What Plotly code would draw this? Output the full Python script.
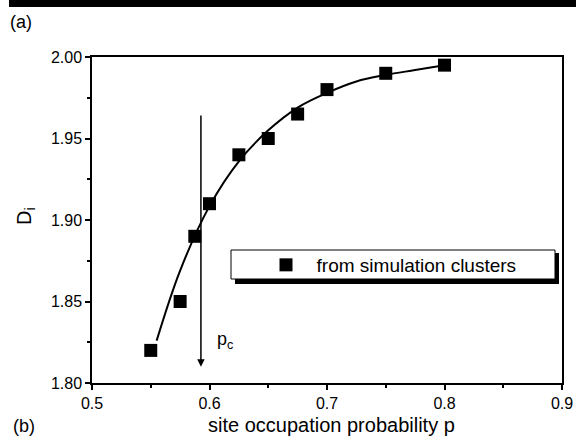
import plotly.graph_objects as go

# ---- data ----
p_sim = [0.55, 0.575, 0.5875, 0.60, 0.625, 0.65, 0.675, 0.70, 0.75, 0.80]
D_sim = [1.82, 1.85, 1.89, 1.91, 1.94, 1.95, 1.965, 1.98, 1.99, 1.995]

p_fit = [0.555, 0.575, 0.60, 0.625, 0.65, 0.675, 0.70, 0.725, 0.75, 0.775, 0.80]
D_fit = [1.826, 1.869, 1.9085, 1.936, 1.955, 1.969, 1.978, 1.985, 1.989, 1.992, 1.995]

p_c = 0.5927
arrow_top = 1.965
arrow_tip = 1.81

x_ticks = [0.5, 0.6, 0.7, 0.8, 0.9]
y_ticks = [1.80, 1.85, 1.90, 1.95, 2.00]

legend_name = "from simulation clusters"
x_title = "site occupation probability p"
y_title = "D<sub>i</sub>"

# ---- layout geometry (pixels) ----
W, H = 576, 437
L, R, T, B = 92, 562, 57, 383


def px(x):
    return (x - L) / (R - L)


def py(y):
    return (B - y) / (B - T)


FONT = "Liberation Sans, Arial, sans-serif"

fig = go.Figure()

fig.add_trace(go.Scatter(
    x=p_fit, y=D_fit, mode="lines", line=dict(color="black", width=2, shape="spline"),
    showlegend=False, hoverinfo="skip"))

fig.add_trace(go.Scatter(
    x=p_sim, y=D_sim, mode="markers", name="\u00a0\u00a0" + legend_name,
    marker=dict(symbol="square", size=13, color="black")))

axis_common = dict(
    showline=True, linecolor="black", linewidth=1.5, mirror=True,
    ticks="outside", ticklen=5, tickwidth=1.5, tickcolor="black",
    showgrid=False, zeroline=False,
    tickfont=dict(family=FONT, size=16, color="black"),
)

fig.update_xaxes(range=[0.5, 0.9], tickvals=x_ticks, tickformat=".1f",
                 minor=dict(dtick=0.05, ticks="outside", ticklen=3, tickwidth=1.5,
                            tickcolor="black", showgrid=False),
                 **axis_common)
fig.update_yaxes(range=[1.80, 2.00], tickvals=y_ticks, tickformat=".2f",
                 minor=dict(dtick=0.025, ticks="outside", ticklen=3, tickwidth=1.5,
                            tickcolor="black", showgrid=False),
                 **axis_common)

shapes = [
    # black bar at very top
    dict(type="rect", xref="paper", yref="paper", x0=px(9), x1=px(576), y0=py(7), y1=py(0),
         fillcolor="black", line=dict(width=0)),
    # legend shadow
    dict(type="rect", xref="paper", yref="paper", x0=px(235), x1=px(559), y0=py(284), y1=py(253),
         fillcolor="black", line=dict(width=0), layer="above"),
    # legend box
    dict(type="rect", xref="paper", yref="paper", x0=px(231), x1=px(555), y0=py(279), y1=py(250),
         fillcolor="white", line=dict(color="black", width=1), layer="above"),
]

annotations = [
    dict(x=p_c, y=arrow_tip, ax=p_c, ay=arrow_top, xref="x", yref="y", axref="x", ayref="y",
         text="", showarrow=True, arrowhead=2, arrowsize=1, arrowwidth=1.5, arrowcolor="black"),
    dict(x=0.605, y=1.826, xref="x", yref="y", text="p<sub>c</sub>", showarrow=False,
         xanchor="left", yanchor="middle", font=dict(family=FONT, size=18, color="black")),
    dict(x=px(8), y=py(22), xref="paper", yref="paper", text="(a)", showarrow=False,
         xanchor="left", yanchor="middle", font=dict(family=FONT, size=18, color="black")),
    dict(x=px(11), y=py(426), xref="paper", yref="paper", text="(b)", showarrow=False,
         xanchor="left", yanchor="middle", font=dict(family=FONT, size=18, color="black")),
    dict(x=px(331), y=py(425), xref="paper", yref="paper", text=x_title, showarrow=False,
         xanchor="center", yanchor="middle", font=dict(family=FONT, size=20, color="black")),
    dict(x=px(25), y=py(216), xref="paper", yref="paper", text=y_title, showarrow=False,
         textangle=-90, xanchor="center", yanchor="middle",
         font=dict(family=FONT, size=20, color="black")),
]

fig.update_layout(
    width=W, height=H,
    margin=dict(l=L, r=W - R, t=T, b=H - B, autoexpand=False),
    paper_bgcolor="white", plot_bgcolor="white",
    showlegend=True,
    legend=dict(x=px(266), y=py(265), xanchor="left", yanchor="middle",
                bgcolor="rgba(0,0,0,0)", borderwidth=0,
                font=dict(family=FONT, size=19, color="black")),
    shapes=shapes, annotations=annotations,
)

fig.write_html(
    "out.html",
    config={"displayModeBar": False},
    post_script="document.body.style.margin='0';document.body.style.overflow='hidden';",
)
